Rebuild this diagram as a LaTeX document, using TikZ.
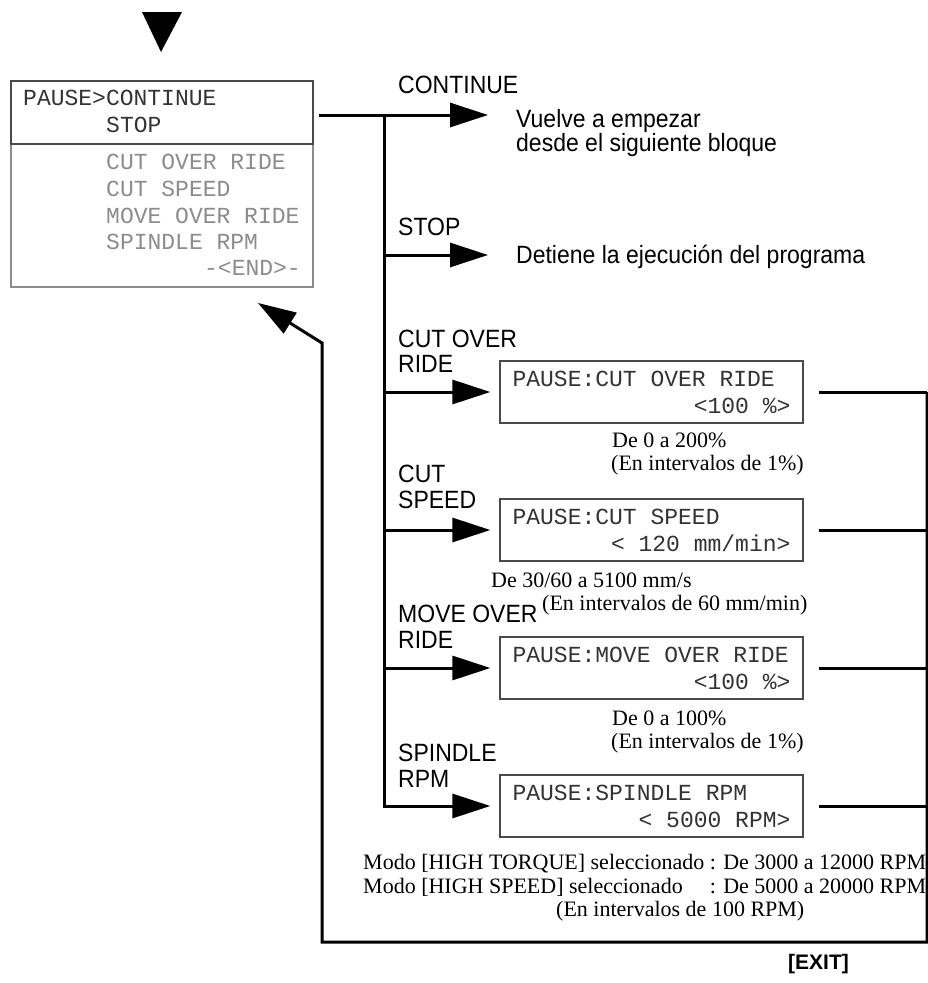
\documentclass[tikz,border=0pt]{standalone}
\usepackage{fontspec}
\setmainfont{Liberation Serif}
\setsansfont{Liberation Sans}
\setmonofont{Liberation Mono}
\newfontfamily\optfont{Liberation Sans}[FakeStretch=0.92]
\usetikzlibrary{arrows.meta}
\definecolor{lcdtext}{HTML}{333333}
\definecolor{dimtext}{HTML}{8C8C8C}
\definecolor{frame}{HTML}{4A4A4A}

\begin{document}
\begin{tikzpicture}[x=1pt, y=-1pt,
  flow/.style={line width=3pt, line join=miter},
  bigarrow/.style={-{Triangle[length=38pt, width=24pt]}},
  lcd/.style={draw=frame, line width=1.3pt, minimum width=303pt, minimum height=62pt, inner sep=0pt},
  opt/.style={font=\fontsize{25}{27}\selectfont\optfont, anchor=base west, inner sep=0pt},
  note/.style={font=\fontsize{22}{23}\selectfont\rmfamily, anchor=base west, inner sep=0pt},
  scr/.style={font=\fontsize{23}{26}\selectfont\ttfamily, text=lcdtext, anchor=base west, inner sep=0pt},
  dim/.style={scr, text=dimtext},
]
\useasboundingbox (0,0) rectangle (928,983);

% entry marker
\fill (142,12) -- (182,12) -- (161,52) -- cycle;

% pause menu screen
\node[draw=dimtext, line width=1.2pt, minimum width=302pt, minimum height=143pt, inner sep=0pt] (menubot) at (162,215.5) {};
\node[draw=frame, line width=1.2pt, minimum width=302pt, minimum height=63pt, inner sep=0pt] (menutop) at (162,112.5) {};
\node[scr] (m1) at (23,105) {PAUSE>CONTINUE};
\node[scr] (m2) at (106,132) {STOP};
\node[dim] (m3) at (106,169) {CUT OVER RIDE};
\node[dim] (m4) at (106,196) {CUT SPEED};
\node[dim] (m5) at (106,223) {MOVE OVER RIDE};
\node[dim] (m6) at (106,249) {SPINDLE RPM};
\node[dim, anchor=base east] (m7) at (301,275) {-<END>-};

% trunk junctions
\coordinate (j0) at (384,115);
\coordinate (jstop) at (384,255);

% CONTINUE
\node[opt] (lcont) at (398,93) {CONTINUE};
\node[opt] (dcont1) at (516,127) {Vuelve a empezar};
\node[opt] (dcont2) at (516,151.5) {desde el siguiente bloque};
\draw[flow, bigarrow] ([xshift=5pt]menutop.east |- j0) -- ([xshift=-28pt]dcont1.west |- j0);

% STOP
\node[opt] (lstop) at (398,235) {STOP};
\node[opt] (dstop) at (516,263) {Detiene la ejecución del programa};
\draw[flow, bigarrow] (jstop) -- ([xshift=-28pt]dstop.west |- jstop);

% setting screens
\node[lcd] (cutbox) at (651.5,392) {};
\node[lcd] (spdbox) at (651.5,530) {};
\node[lcd] (movbox) at (651.5,668) {};
\node[lcd] (rpmbox) at (651.5,806) {};

\node[scr] (c1) at ([shift={(13,-6)}]cutbox.west) {PAUSE:CUT OVER RIDE};
\node[scr, anchor=base east] (c2) at ([shift={(-13,21)}]cutbox.east) {<100 \%>};
\node[scr] (s1) at ([shift={(13,-6)}]spdbox.west) {PAUSE:CUT SPEED};
\node[scr, anchor=base east] (s2) at ([shift={(-13,21)}]spdbox.east) {< 120 mm/min>};
\node[scr] (v1) at ([shift={(13,-6)}]movbox.west) {PAUSE:MOVE OVER RIDE};
\node[scr, anchor=base east] (v2) at ([shift={(-13,21)}]movbox.east) {<100 \%>};
\node[scr] (r1t) at ([shift={(13,-6)}]rpmbox.west) {PAUSE:SPINDLE RPM};
\node[scr, anchor=base east] (r2t) at ([shift={(-13,21)}]rpmbox.east) {< 5000 RPM>};

% option labels
\node[opt] (lcut1) at (398,347) {CUT OVER};
\node[opt] (lcut2) at (398,372) {RIDE};
\node[opt] (lspd1) at (398,482) {CUT};
\node[opt] (lspd2) at (398,508) {SPEED};
\node[opt] (lmov1) at (398,622) {MOVE OVER};
\node[opt] (lmov2) at (398,648) {RIDE};
\node[opt] (lrpm1) at (398,761) {SPINDLE};
\node[opt] (lrpm2) at (398,787) {RPM};

% ranges
\node[note] (n1a) at (612,447) {De 0 a 200\%};
\node[note] (n1b) at (611,470) {(En intervalos de 1\%)};
\node[note] (n2a) at (491,587) {De 30/60 a 5100 mm/s};
\node[note] (n2b) at (542,610) {(En intervalos de 60 mm/min)};
\node[note] (n3a) at (612,725) {De 0 a 100\%};
\node[note] (n3b) at (611,748) {(En intervalos de 1\%)};
\node[note] (n4a) at (363,869) {Modo [HIGH TORQUE] seleccionado : De 3000 a 12000 RPM};
\node[note] (n4b) at (363,893) {Modo [HIGH SPEED] seleccionado};
\node[note, anchor=base east] (n4c) at (n4a.base east |- 0,893) {: De 5000 a 20000 RPM};
\node[note] (n4d) at (556,916) {(En intervalos de 100 RPM)};

% trunk and branches to the screens
\draw[flow, bigarrow, shorten >=9pt] (j0) -- (j0 |- rpmbox.west) -- (rpmbox.west);
\draw[flow, bigarrow, shorten >=9pt] (j0 |- cutbox.west) -- (cutbox.west);
\draw[flow, bigarrow, shorten >=9pt] (j0 |- spdbox.west) -- (spdbox.west);
\draw[flow, bigarrow, shorten >=9pt] (j0 |- movbox.west) -- (movbox.west);

% exit path back to the menu
\coordinate (rtop) at (927,392);
\coordinate (rbot) at (927,942);
\coordinate (lbot) at (322,942);
\coordinate (lup) at (322,343);
\coordinate (back) at (258,303);
\draw[flow] ([xshift=15pt]cutbox.east) -- (rtop);
\draw[flow] ([xshift=15pt]spdbox.east) -- (rtop |- spdbox.east);
\draw[flow] ([xshift=15pt]movbox.east) -- (rtop |- movbox.east);
\draw[flow] ([xshift=15pt]rpmbox.east) -- (rtop |- rpmbox.east);
\draw[flow, bigarrow] (rtop) -- (rbot) -- (lbot) -- (lup) -- (back);

\node[font=\fontsize{21}{23}\selectfont\sffamily\bfseries, anchor=base west, inner sep=0pt] (exit) at (788,969) {[EXIT]};
\end{tikzpicture}
\end{document}
